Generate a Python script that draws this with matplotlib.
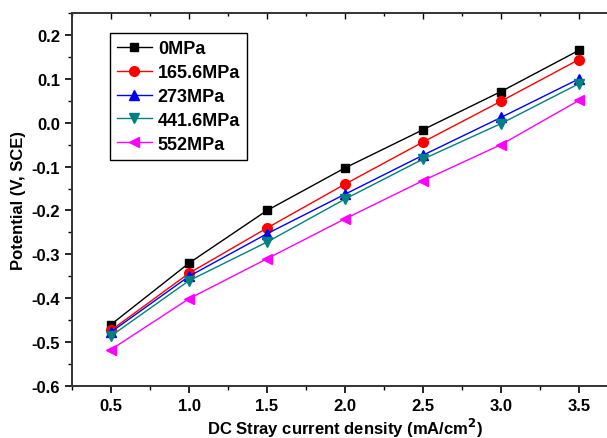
import numpy as np
import matplotlib
matplotlib.use('Agg')
import matplotlib.pyplot as plt
from matplotlib.ticker import MultipleLocator

plt.rcParams['font.family'] = ['Liberation Sans', 'DejaVu Sans']
plt.rcParams['font.weight'] = 'bold'

# Current density (mA/cm2)
current = [0.5, 1.0, 1.5, 2.0, 2.5, 3.0, 3.5]

# Potential (V vs SCE) for each applied stress
pot_0 = [-0.46, -0.32, -0.20, -0.103, -0.016, 0.071, 0.165]
pot_165 = [-0.473, -0.343, -0.24, -0.14, -0.044, 0.049, 0.144]
pot_273 = [-0.477, -0.35, -0.253, -0.163, -0.074, 0.012, 0.10]
pot_441 = [-0.486, -0.36, -0.272, -0.174, -0.083, -0.002, 0.089]
pot_552 = [-0.517, -0.401, -0.31, -0.219, -0.132, -0.05, 0.051]

labels = ['0MPa', '165.6MPa', '273MPa', '441.6MPa', '552MPa']
series = [pot_0, pot_165, pot_273, pot_441, pot_552]
colors = ['black', 'red', 'blue', '#008080', '#ff00ff']
markers = ['s', 'o', '^', 'v', '<']
sizes = [6, 7, 7, 7, 7.5]

fig = plt.figure(figsize=(6.07, 4.39), dpi=100)
# right side of the frame runs past the edge of the figure
ax = fig.add_axes([72 / 607, 52 / 439, 546 / 607, 373 / 439])

for y, lab, c, m, s in zip(series, labels, colors, markers, sizes):
    ax.plot(current, y, color=c, marker=m, markersize=s, linewidth=1, label=lab)

ax.set_xlim(0.25, 3.75)
ax.set_ylim(-0.6, 0.25)
ax.set_xticks(np.arange(0.5, 3.51, 0.5))
ax.set_yticks(np.arange(-0.6, 0.21, 0.1))
ax.xaxis.set_minor_locator(MultipleLocator(0.25))
ax.yaxis.set_minor_locator(MultipleLocator(0.05))
ax.yaxis.set_major_formatter(plt.FuncFormatter(lambda v, p: f'{round(v, 2) + 0.0:.1f}'))

ax.tick_params(which='major', direction='out', length=5, width=1.2, labelsize=12)
ax.tick_params(which='minor', direction='out', length=3, width=1.0)
for lab in ax.get_xticklabels() + ax.get_yticklabels():
    lab.set_fontweight('bold')

# inward ticks along the top edge
top = ax.secondary_xaxis('top')
top.set_xticks(np.arange(0.5, 3.51, 0.5))
top.xaxis.set_minor_locator(MultipleLocator(0.25))
top.tick_params(which='major', direction='in', length=4, width=1.0, labeltop=False)
top.tick_params(which='minor', direction='in', length=2, width=1.0)
top.spines['top'].set_visible(False)

for sp in ax.spines.values():
    sp.set_linewidth(1.4)
    sp.set_color('#333333')

ax.set_xlabel('DC Stray current density (mA/cm$^\\mathbf{2}$)', fontsize=12, fontweight='bold', labelpad=2)
ax.set_ylabel('Potential (V, SCE)', fontsize=12, fontweight='bold', labelpad=4)

leg = ax.legend(loc='upper left', bbox_to_anchor=(38 / 546, (387 - 34) / 373),
                borderaxespad=0, fancybox=False, edgecolor='black', framealpha=1,
                prop={'weight': 'bold', 'size': 13}, handlelength=1.9,
                labelspacing=0.38, handletextpad=0.35, borderpad=0.4)
leg.get_frame().set_linewidth(1.0)

fig.savefig('out.png', dpi=100)
